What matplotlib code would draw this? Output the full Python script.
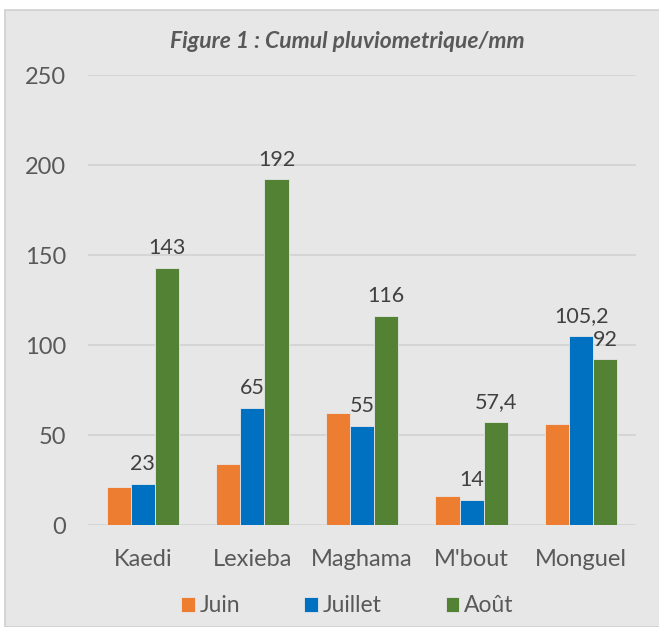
import numpy as np
import matplotlib.pyplot as plt
from matplotlib.patches import Rectangle

plt.rcParams['font.family'] = ['Lato', 'DejaVu Sans']

stations = ['Kaedi', 'Lexieba', 'Maghama', "M'bout", 'Monguel']
juin = [21, 34, 62, 16, 56]
juillet = [23, 65, 55, 14, 105.2]
aout = [143, 192, 116, 57.4, 92]
series_names = ['Juin', 'Juillet', 'Août']
colors = ['#ED7D31', '#0070C0', '#548235']
labelled = [False, True, True]

fig = plt.figure(figsize=(6.59, 6.27), dpi=100)
fig.patch.set_facecolor('white')

# grey chart frame
frame = Rectangle((5 / 659, 0), 1.0, 1 - 10 / 627, transform=fig.transFigure,
                  facecolor='#e7e7e7', edgecolor='#cfcfcf', linewidth=1.2, zorder=-1)
fig.patches.append(frame)

ax = fig.add_axes([88 / 659, 1 - 525 / 627, (636 - 88) / 659, (525 - 75) / 627])
ax.set_facecolor('#e7e7e7')

x = np.arange(len(stations))
w = 0.22
data = [juin, juillet, aout]
for i, (vals, name, col) in enumerate(zip(data, series_names, colors)):
    bars = ax.bar(x + (i - 1) * w, vals, w, color=col, label=name,
                  edgecolor='#e7e7e7', linewidth=0.6, zorder=3)
    if labelled[i]:
        for b, v in zip(bars, vals):
            txt = f'{v:g}'.replace('.', ',')
            ax.annotate(txt, (b.get_x() + b.get_width() / 2, v),
                        xytext=(0, 7), textcoords='offset points',
                        ha='center', va='bottom', fontsize=15.5, color='#404040')

ax.set_ylim(0, 250)
ax.set_xlim(-0.5, len(stations) - 0.5)
ax.set_yticks(range(0, 251, 50))
ax.set_xticks(x)
ax.set_xticklabels(stations)
ax.grid(axis='y', color='#d2d2d2', linewidth=1.2, zorder=0)
ax.set_axisbelow(True)
for s in ax.spines.values():
    s.set_visible(False)
ax.tick_params(axis='both', length=0, labelsize=17, colors='#595959')
ax.tick_params(axis='y', pad=16)
ax.tick_params(axis='x', pad=17)

fig.text(0.527, 1 - 42 / 627, 'Figure 1 : Cumul pluviometrique/mm', ha='center', va='center',
         fontsize=16.5, fontstyle='italic', fontweight='bold', color='#595959')

handles, labels = ax.get_legend_handles_labels()
fig.legend(handles, labels, loc='center', bbox_to_anchor=(0.527, 1 - 606 / 627), ncol=3,
           frameon=False, fontsize=16.5, handlelength=0.6, handleheight=0.6,
           handletextpad=0.2, columnspacing=2.8, labelcolor='#595959')

fig.savefig('out.png', dpi=100)
